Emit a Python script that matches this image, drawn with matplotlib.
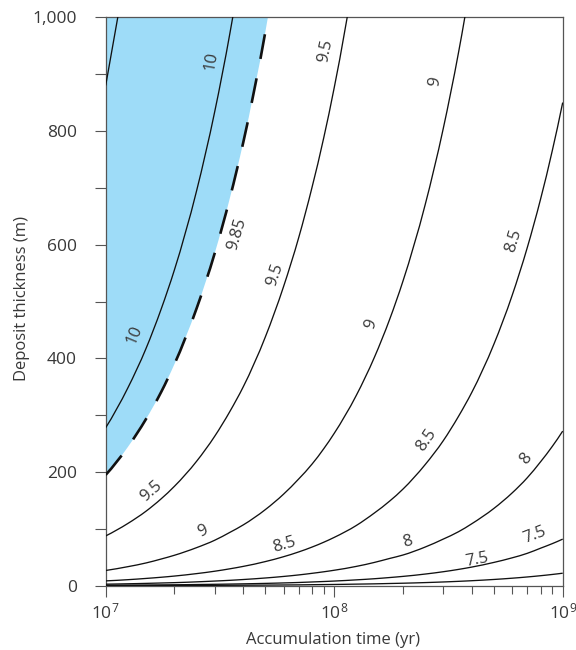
import numpy as np
import matplotlib
matplotlib.use('Agg')
import matplotlib.pyplot as plt
from matplotlib.path import Path
from matplotlib.patches import PathPatch
from matplotlib.transforms import IdentityTransform
from matplotlib.ticker import FixedLocator, FuncFormatter, LogLocator

plt.rcParams['font.family'] = ['Open Sans', 'DejaVu Sans']

time_yr = [1e7, 1.25e7, 1.5e7, 1.75e7, 2e7, 2.5e7, 3e7, 3.5e7, 4e7, 5e7, 6e7, 7e7, 8e7, 9e7,
           1e8, 1.25e8, 1.5e8, 1.75e8, 2e8, 2.5e8, 3e8, 3.5e8, 4e8, 5e8, 6e8, 7e8, 8e8, 9e8, 1e9]

# deposit thickness (m) along each curve
thick_105 = [880, 1100]
thick_100 = [278, 348, 417, 487, 556, 695, 834, 973, 1112]
thick_985 = [195, 244, 293, 341, 390, 488, 585, 683, 780, 975, 1170]
thick_95 = [87.6, 109.5, 131, 153, 175, 219, 263, 307, 350, 438, 526, 613, 701, 788,
            876, 1095]
thick_90 = [26.8, 33.5, 40, 47, 53.6, 67, 80, 94, 107, 134, 161, 188, 214, 241,
            268, 335, 402, 469, 536, 670, 804, 938, 1072]
thick_85 = [8.5, 10.6, 12.8, 14.9, 17, 21.3, 25.5, 29.8, 34, 42.5, 51, 59.5, 68, 76.5,
            85, 106, 128, 149, 170, 213, 255, 298, 340, 425, 510, 595, 680, 765, 850]
thick_80 = [2.7, 3.4, 4.1, 4.8, 5.4, 6.8, 8.2, 9.5, 10.9, 13.6, 16.3, 19, 21.8, 24.5,
            27.2, 34, 41, 48, 54, 68, 82, 95, 109, 136, 163, 190, 218, 245, 272]
thick_75 = [0.82, 1.0, 1.2, 1.4, 1.6, 2.1, 2.5, 2.9, 3.3, 4.1, 4.9, 5.7, 6.6, 7.4,
            8.2, 10.3, 12.3, 14.4, 16.4, 20.5, 24.6, 28.7, 32.8, 41, 49, 57, 66, 74, 82]
thick_70 = [0.22, 0.28, 0.33, 0.39, 0.44, 0.55, 0.66, 0.77, 0.88, 1.1, 1.3, 1.5, 1.8, 2.0,
            2.2, 2.8, 3.3, 3.9, 4.4, 5.5, 6.6, 7.7, 8.8, 11, 13.2, 15.4, 17.6, 19.8, 22]

curves = [thick_105, thick_100, thick_985, thick_95, thick_90, thick_85, thick_80, thick_75, thick_70]

# contour labels: text, curve index, position (t, m)
label_text = ['10', '10', '9.85', '9.5', '9.5', '9.5', '9', '9', '9',
              '8.5', '8.5', '8.5', '8', '8', '7.5', '7.5']
label_curve = [1, 1, 2, 3, 3, 3, 4, 4, 4, 5, 5, 5, 6, 6, 7, 7]
label_t = [2.91e7, 1.34e7, 3.77e7, 1.59e7, 5.51e7, 9.12e7, 2.65e7, 1.45e8, 2.76e8,
           6.05e7, 2.54e8, 6.08e8, 2.09e8, 6.89e8, 4.2e8, 7.57e8]
label_y = [924, 442, 618, 166, 548, 942, 96, 461, 886,
           72, 257, 607, 78, 223, 45, 89]

fig = plt.figure(figsize=(5.76, 6.5), dpi=100)
ax = fig.add_axes([0.1835, 0.0989, 0.7934, 0.8745])
ax.set_xscale('log')
ax.set_xlim(1e7, 1e9)
ax.set_ylim(0, 1000)

ink = '#383838'
spine_c = '#555555'


def smooth_verts(ts, ys):
    # smooth bezier through the read points, in screen space
    p = ax.transData.transform(np.column_stack([ts, ys]))
    x, y = p[:, 0], p[:, 1]
    h = np.diff(x)
    d = np.diff(y) / h
    n = len(x)
    s = np.empty(n)
    if n == 2:
        s[:] = d[0]
    else:
        s[1:-1] = (h[:-1] * d[1:] + h[1:] * d[:-1]) / (h[:-1] + h[1:])
        s[0] = ((2 * h[0] + h[1]) * d[0] - h[0] * d[1]) / (h[0] + h[1])
        s[-1] = ((2 * h[-1] + h[-2]) * d[-1] - h[-1] * d[-2]) / (h[-1] + h[-2])
    verts = [(x[0], y[0])]
    codes = [Path.MOVETO]
    for i in range(n - 1):
        verts += [(x[i] + h[i] / 3, y[i] + s[i] * h[i] / 3),
                  (x[i + 1] - h[i] / 3, y[i + 1] - s[i + 1] * h[i] / 3),
                  (x[i + 1], y[i + 1])]
        codes += [Path.CURVE4] * 3
    return verts, codes, s, p


# blue region above the dashed curve
v, c, _, _ = smooth_verts(time_yr[:len(thick_985)], thick_985)
top = ax.bbox.y1 + 200
v = v + [(v[-1][0], top), (v[0][0], top), v[0]]
c = c + [Path.LINETO, Path.LINETO, Path.CLOSEPOLY]
ax.add_patch(PathPatch(Path(v, c), transform=IdentityTransform(), facecolor='#9EDCF8',
                       edgecolor='none', lw=0, zorder=1))

slopes = []
for i, cv in enumerate(curves):
    v, c, s, p = smooth_verts(time_yr[:len(cv)], cv)
    slopes.append((s, p))
    if i == 2:
        patch = PathPatch(Path(v, c), transform=IdentityTransform(), fill=False,
                          edgecolor='#111111', lw=1.9, ls=(0, (9.5, 7.5)), zorder=3,
                          capstyle='butt')
    else:
        patch = PathPatch(Path(v, c), transform=IdentityTransform(), fill=False,
                          edgecolor='#111111', lw=0.95, zorder=3)
    ax.add_patch(patch)

# rotate labels along their curve
for txt, ci, lt, ly in zip(label_text, label_curve, label_t, label_y):
    s, p = slopes[ci]
    lp = ax.transData.transform((lt, ly))
    k = int(np.argmin(np.hypot(p[:, 0] - lp[0], p[:, 1] - lp[1])))
    ang = np.degrees(np.arctan(s[k]))
    ax.text(lt, ly, txt, rotation=ang, rotation_mode='anchor', ha='center', va='center',
            fontsize=12, color=ink, zorder=4)

for sp in ax.spines.values():
    sp.set_color(spine_c)
    sp.set_linewidth(0.9)

ax.yaxis.set_major_locator(FixedLocator([0, 200, 400, 600, 800, 1000]))
ax.yaxis.set_minor_locator(FixedLocator([100, 300, 500, 700, 900]))
ax.yaxis.set_major_formatter(FuncFormatter(lambda val, pos: f'{int(val):,}'))
ax.xaxis.set_major_locator(LogLocator(base=10, numticks=5))
ax.xaxis.set_minor_locator(LogLocator(base=10, subs=np.arange(2, 10), numticks=20))

ax.tick_params(axis='y', which='both', length=7.7, width=0.8, color=spine_c, direction='out',
               labelsize=12.5, labelcolor=ink, pad=13)
ax.tick_params(axis='x', which='major', length=8, width=0.8, color=spine_c, direction='out',
               labelsize=12.5, labelcolor=ink, pad=4)
ax.tick_params(axis='x', which='minor', length=5.8, width=0.8, color=spine_c, direction='out')

ax.set_xlabel('Accumulation time (yr)', fontsize=12, color=ink, va='center')
ax.set_ylabel('Deposit thickness (m)', fontsize=12, color=ink, va='center')
ax.xaxis.set_label_coords(0.497, -0.0955)
ax.yaxis.set_label_coords(-0.183, 0.506)

fig.savefig('out.png', dpi=100)
